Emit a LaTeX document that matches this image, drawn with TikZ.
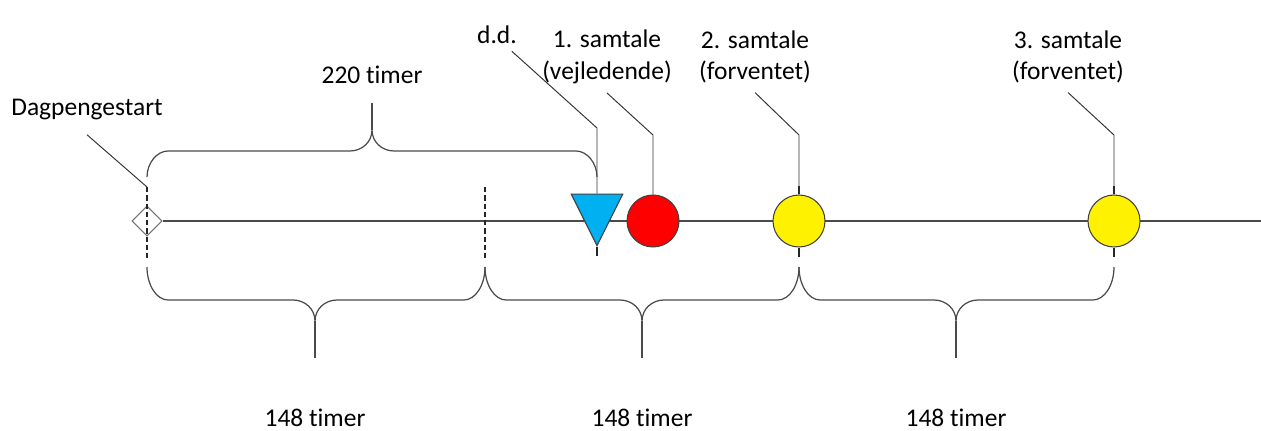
\documentclass[tikz,border=0pt]{standalone}
\usepackage{fontspec}
\setmainfont{Carlito}[Ligatures=NoCommon]
\usepackage{tikz}
\usetikzlibrary{shapes.geometric,positioning}

\definecolor{ddblue}{HTML}{00B0F0}
\definecolor{linegray}{HTML}{4A4A4A}

\begin{document}
\begin{tikzpicture}[
    x=0.02cm, y=-0.02cm,
    font=\fontsize{14.5}{18}\selectfont,
    txt/.style={inner sep=1pt, align=center},
    line/.style={draw=linegray, line width=0.7pt},
    leader/.style={draw=black!80, line width=0.55pt},
    brace/.style={draw=linegray, line width=0.7pt},
    dashmark/.style={draw=black!85, line width=1.2pt, dash pattern=on 3pt off 1.7pt},
    tickmark/.style={draw=black!85, line width=1.2pt},
    start/.style={diamond, draw=black!55, fill=white, line width=0.6pt, minimum size=0.6cm, inner sep=0pt},
    ddmark/.style={isosceles triangle, isosceles triangle stretches, shape border rotate=270,
        draw=black!75, fill=ddblue, line width=0.6pt, minimum width=1.03cm, minimum height=1.03cm, inner sep=0pt},
    event/.style={circle, draw=black!75, line width=0.6pt, minimum size=1.04cm, inner sep=0pt}
]
    \useasboundingbox (0,0) rectangle (1261,431);

    % tidslinje
    \node[start] (start) at (147,221) {};
    \coordinate (lineend) at (1261,221);
    \draw[line] (start.east) -- (lineend);
    \draw[dashmark] (147,187) -- (147,258);
    \draw[dashmark] (485,187) -- (485,258);

    % markeringer
    \node[ddmark, anchor=apex] (dd) at (597,247) {};
    \node[event, fill=red] (s1) at (653,221) {};
    \node[event, fill=yellow] (s2) at (799,221) {};
    \node[event, fill=yellow] (s3) at (1114,221) {};
    \draw[tickmark] (dd.apex) -- ++(0,9);
    \foreach \s in {s2,s3} {
        \draw[tickmark] (\s.north) -- ++(0,-8);
        \draw[tickmark] (\s.south) -- ++(0,9);
    }

    % tekster
    \node[txt] (dagtxt) at (87,110) {Dagpengestart};
    \node[txt] (ddtxt) at (497,35) {d.d.};
    \node[txt] (s1txt) at (607,57) {1. samtale\\(vejledende)};
    \node[txt] (s2txt) at (755,57) {2. samtale\\(forventet)};
    \node[txt] (s3txt) at (1068,57) {3. samtale\\(forventet)};
    \node[txt] (toptxt) at (372,75) {220 timer};

    % henvisningslinjer
    \draw[leader] ([yshift=-7pt]dagtxt.south) -- (147,187);
    \draw[leader] ([xshift=-4pt,yshift=-3pt]ddtxt.south east) -- (dd.north |- 0,128) -- (dd.north);
    \foreach \s in {s1,s2,s3}
        \draw[leader] ([yshift=-4pt]\s txt.south) -- (\s.north |- 0,135) -- (\s.north);

    % klammer
    \draw[brace] (147,177) .. controls (147,163) and (157,151) .. (168,151) -- (350,151)
        .. controls (362,151) and (372,142) .. (372,130) .. controls (372,142) and (382,151) .. (394,151)
        -- (576,151) .. controls (587,151) and (597,163) .. (597,177);
    \draw[brace] (372,130) -- (toptxt.south |- 0,103);
    \foreach \a/\m/\b in {147/315/485, 485/642/799, 799/956/1114} {
        \draw[brace] (\a,267) .. controls (\a,285) and (\a+9.5,300) .. (\a+21,300) -- (\m-22,300)
            .. controls (\m-10,300) and (\m,309) .. (\m,321) .. controls (\m,309) and (\m+10,300) .. (\m+22,300)
            -- (\b-21,300) .. controls (\b-9.5,300) and (\b,285) .. (\b,267);
        \draw[brace] (\m,321) -- (\m,358);
        \node[txt] (h\m) at (\m,418) {148 timer};
    }
\end{tikzpicture}
\end{document}
